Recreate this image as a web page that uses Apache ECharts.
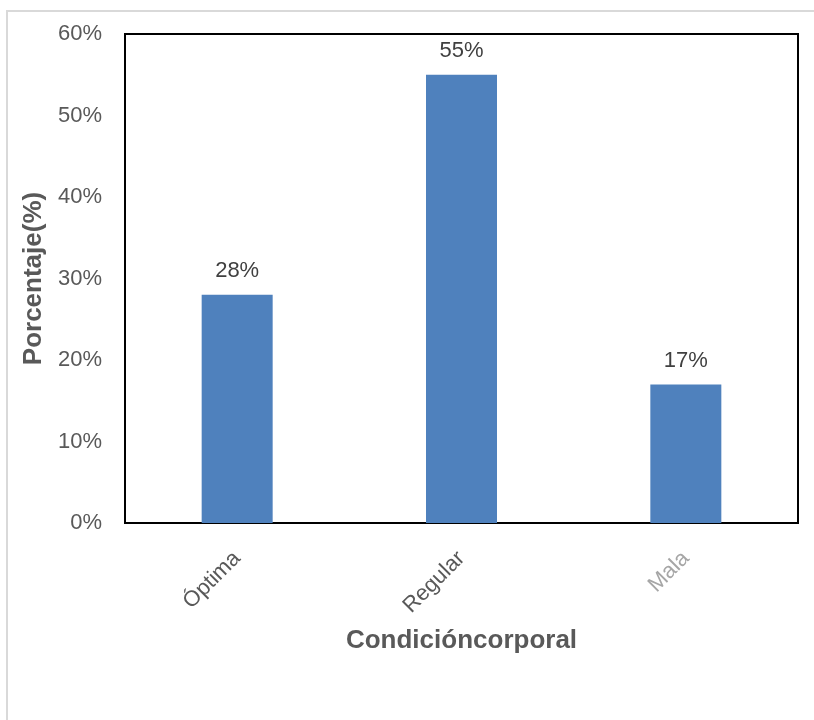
<!DOCTYPE html>
<html>
<head>
<meta charset="utf-8">
<script src="https://cdn.jsdelivr.net/npm/echarts@6/dist/echarts.min.js"></script>
<style>
  html, body { margin: 0; padding: 0; background: #fff; }
  #chart { width: 814px; height: 720px; }
</style>
</head>
<body>
<div id="chart"></div>
<script>
var categories = ['Óptima', 'Regular', 'Mala'];
var porcentajes = [28, 55, 17];
var yTicks = [0, 10, 20, 30, 40, 50, 60];

var myChart = echarts.init(document.getElementById('chart'));
var option = {
  backgroundColor: '#fff',
  textStyle: { fontFamily: 'Liberation Sans, Arial, sans-serif' },
  graphic: [{
    type: 'rect',
    shape: { x: 7, y: 11, width: 830, height: 740 },
    style: { fill: 'none', stroke: '#d9d9d9', lineWidth: 2 },
    silent: true
  }],
  grid: {
    left: 125, top: 34, right: 16, bottom: 197,
    show: true, borderColor: '#000', borderWidth: 2
  },
  xAxis: {
    type: 'category',
    data: categories.map(function (c, i) {
      return i === 2 ? { value: c, textStyle: { color: '#a6a6a6' } } : c;
    }),
    axisLine: { show: true, lineStyle: { color: '#000', width: 2 } },
    axisTick: { show: false },
    axisLabel: { rotate: 45, color: '#595959', fontSize: 22, margin: 32, interval: 0 },
    name: 'Condicióncorporal',
    nameLocation: 'middle',
    nameGap: 105,
    nameTextStyle: { color: '#595959', fontSize: 26, fontWeight: 'bold' }
  },
  yAxis: {
    type: 'value',
    min: yTicks[0], max: yTicks[yTicks.length - 1], interval: 10,
    axisLine: { show: true, lineStyle: { color: '#000', width: 2 } },
    axisTick: { show: false },
    splitLine: { show: false },
    axisLabel: { formatter: '{value}%', color: '#595959', fontSize: 22, margin: 23 },
    name: 'Porcentaje(%)',
    nameLocation: 'middle',
    nameGap: 77,
    nameTextStyle: { color: '#595959', fontSize: 26, fontWeight: 'bold' }
  },
  series: [{
    type: 'bar',
    data: porcentajes,
    barWidth: 71,
    itemStyle: { color: '#4f81bd' },
    label: {
      show: true, position: 'top', distance: 13,
      formatter: '{c}%', color: '#404040', fontSize: 22
    }
  }]
};
myChart.setOption(option);
</script>
</body>
</html>
